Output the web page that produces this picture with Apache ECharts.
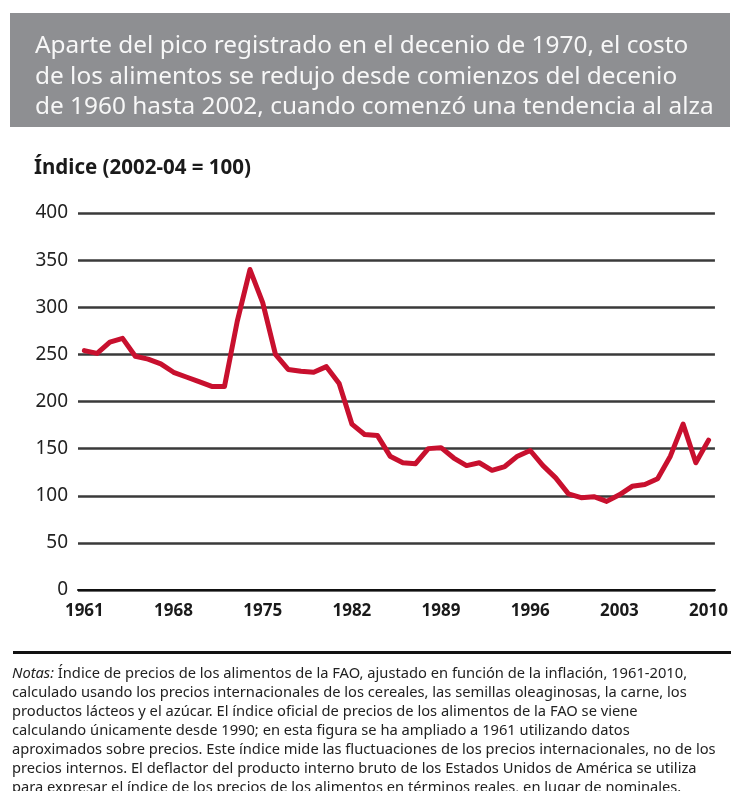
<!DOCTYPE html>
<html>
<head>
<meta charset="utf-8">
<script src="https://cdn.jsdelivr.net/npm/echarts@6/dist/echarts.min.js"></script>
<style>
html, body { margin: 0; padding: 0; background: #fff; }
#main { width: 731px; height: 791px; }
</style>
</head>
<body>
<div id="main"></div>
<script>
var chartDom = document.getElementById('main');
var myChart = echarts.init(chartDom);
var option;

// Índice de precios de los alimentos de la FAO (real, 2002-04 = 100)
var years = [
  '1961', '1962', '1963', '1964', '1965', '1966', '1967', '1968', '1969', '1970',
  '1971', '1972', '1973', '1974', '1975', '1976', '1977', '1978', '1979', '1980',
  '1981', '1982', '1983', '1984', '1985', '1986', '1987', '1988', '1989', '1990',
  '1991', '1992', '1993', '1994', '1995', '1996', '1997', '1998', '1999', '2000',
  '2001', '2002', '2003', '2004', '2005', '2006', '2007', '2008', '2009', '2010'
];
var indexValues = [
  254, 251, 263, 267, 248, 245, 240, 231, 226, 221,
  216, 216, 285, 340, 305, 250, 234, 232, 231, 237,
  219, 176, 165, 164, 142, 135, 134, 150, 151, 140,
  132, 135, 127, 131, 142, 148, 132, 119, 102, 98,
  99, 94, 101, 110, 112, 118, 142, 176, 135, 159
];

var titleLines = [
  'Aparte del pico registrado en el decenio de 1970, el costo',
  'de los alimentos se redujo desde comienzos del decenio',
  'de 1960 hasta 2002, cuando comenzó una tendencia al alza'
];
var axisTitle = 'Índice (2002-04 = 100)';
var noteLines = [
  '{i|Notas:} Índice de precios de los alimentos de la FAO, ajustado en función de la inflación, 1961-2010,',
  'calculado usando los precios internacionales de los cereales, las semillas oleaginosas, la carne, los',
  'productos lácteos y el azúcar. El índice oficial de precios de los alimentos de la FAO se viene',
  'calculando únicamente desde 1990; en esta figura se ha ampliado a 1961 utilizando datos',
  'aproximados sobre precios. Este índice mide las fluctuaciones de los precios internacionales, no de los',
  'precios internos. El deflactor del producto interno bruto de los Estados Unidos de América se utiliza',
  'para expresar el índice de los precios de los alimentos en términos reales, en lugar de nominales.'
];

var FONT = '"Noto Sans", sans-serif';

option = {
  animation: false,
  grid: {
    left: 78,
    right: 15,
    top: 213,
    bottom: 201
  },
  xAxis: {
    type: 'category',
    data: years,
    boundaryGap: true,
    axisLine: { lineStyle: { color: '#111', width: 2 } },
    axisTick: { interval: 0, length: 4, lineStyle: { color: '#111', width: 2 } },
    axisLabel: {
      interval: 6,
      margin: 13,
      fontFamily: FONT,
      fontWeight: 'bold',
      fontSize: 17,
      color: '#1a1a1a'
    }
  },
  yAxis: {
    type: 'value',
    min: 0,
    max: 400,
    interval: 50,
    axisLine: { show: false },
    axisTick: { show: false },
    axisLabel: {
      margin: 10,
      fontFamily: FONT,
      fontSize: 19,
      color: '#222'
    },
    splitLine: { lineStyle: { color: '#3a3a3a', width: 2.5 } }
  },
  series: [
    {
      type: 'line',
      data: indexValues,
      symbol: 'none',
      lineStyle: { color: '#c8102e', width: 5, join: 'round', cap: 'round' }
    }
  ],
  graphic: [
    {
      type: 'rect',
      shape: { x: 10, y: 13, width: 720, height: 114 },
      style: { fill: '#8e8f92' },
      silent: true
    },
    {
      type: 'text',
      x: 35,
      y: 31,
      style: {
        text: titleLines.join('\n'),
        fill: '#f7f7f7',
        font: '24.4px ' + FONT,
        lineHeight: 30.5,
        verticalAlign: 'top'
      },
      silent: true
    },
    {
      type: 'text',
      x: 34,
      y: 168,
      style: {
        text: axisTitle,
        fill: '#1a1a1a',
        font: 'bold 20.5px ' + FONT,
        verticalAlign: 'middle'
      },
      silent: true
    },
    {
      type: 'rect',
      shape: { x: 13, y: 651, width: 718, height: 3 },
      style: { fill: '#111' },
      silent: true
    },
    {
      type: 'text',
      x: 12,
      y: 664,
      style: {
        text: noteLines.join('\n'),
        fill: '#222',
        fontFamily: FONT,
        fontSize: 14.7,
        lineHeight: 19,
        verticalAlign: 'top',
        rich: {
          i: { fontStyle: 'italic', fontFamily: FONT, fontSize: 14.7, lineHeight: 19 }
        }
      },
      silent: true
    }
  ]
};

option && myChart.setOption(option);
</script>
</body>
</html>
